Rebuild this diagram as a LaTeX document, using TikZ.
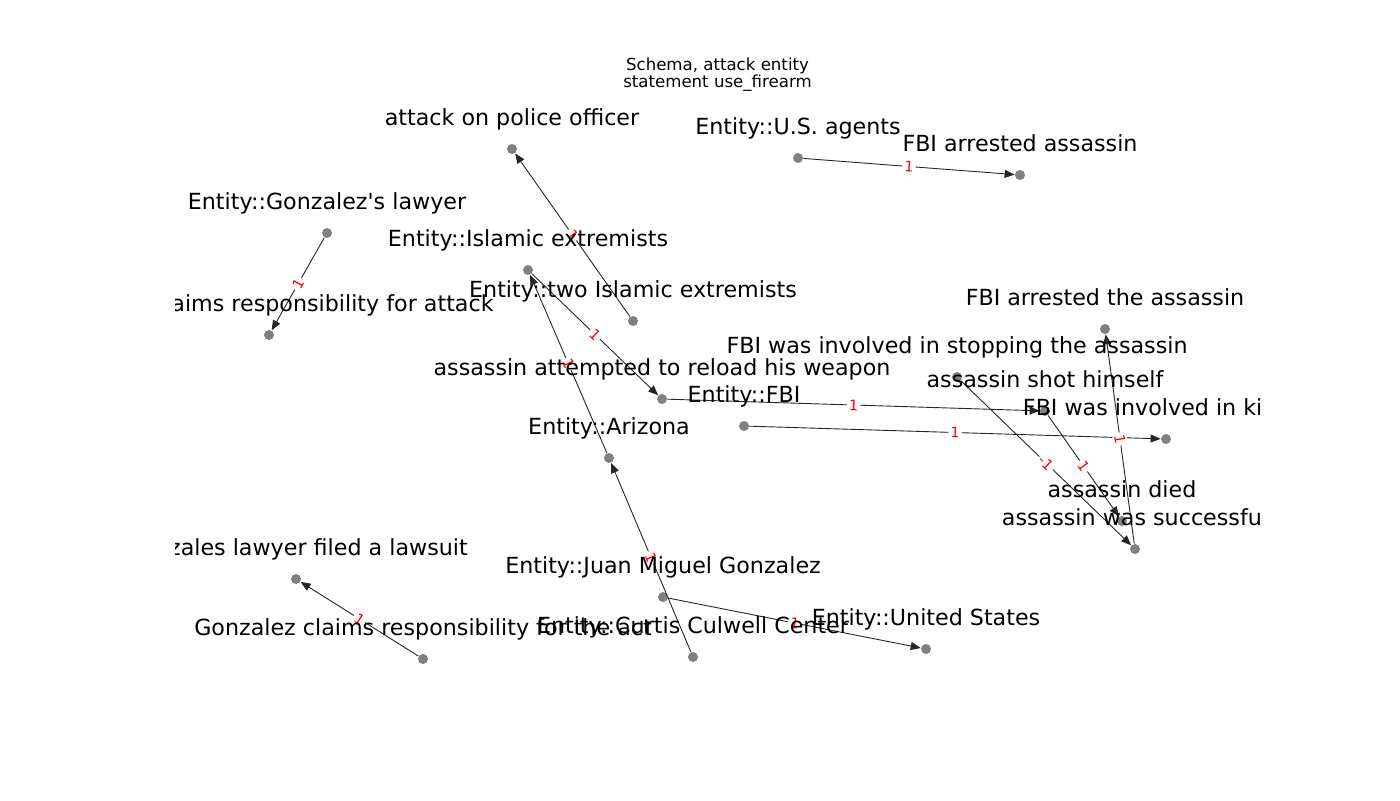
\documentclass[tikz,border=0pt]{standalone}
\usepackage{fontspec}
\setmainfont{DejaVu Sans}
\usetikzlibrary{arrows.meta}
\begin{document}
\begin{tikzpicture}[x=0.5pt,y=-0.5pt,
  dot/.style={circle,fill=gray,inner sep=0pt,minimum size=5pt},
  lbl/.style={font=\fontsize{11.1}{13}\selectfont,inner sep=0pt,text height=0.76em,text depth=0.24em},
  edge/.style={-{Triangle[length=5pt,width=4pt]},line width=0.45pt,black!85},
  elab/.style={font=\fontsize{7.2}{8}\selectfont,text=red,fill=white,inner sep=1pt,sloped,midway}]
\useasboundingbox (0,0) rectangle (1400,800);
\node[font=\fontsize{8.3}{8.6}\selectfont,align=center] (title) at (717.5,74.5) {Schema, attack entity\\statement use\_firearm};
\begin{scope}
\clip (175,96) rectangle (1260,712);
% event and entity nodes
\node[dot] (attack) at (512,149) {};
\node[dot] (usag) at (798,158) {};
\node[dot] (fbiarr) at (1020,175) {};
\node[dot] (glaw) at (327,233) {};
\node[dot] (islam) at (528,270) {};
\node[dot] (twoisl) at (633,321) {};
\node[dot] (claim) at (269,335) {};
\node[dot] (fbiarrthe) at (1105,329) {};
\node[dot] (fbistop) at (957,377) {};
\node[dot] (shot) at (1045,411) {};
\node[dot] (fbikill) at (1166,439) {};
\node[dot] (died) at (1122,521) {};
\node[dot] (succ) at (1135,549) {};
\node[dot] (reload) at (662,399) {};
\node[dot] (fbi) at (744,426) {};
\node[dot] (ariz) at (609,458) {};
\node[dot] (lawsuit) at (296,579) {};
\node[dot] (juan) at (663,597) {};
\node[dot] (act) at (423,659) {};
\node[dot] (curtis) at (693,657) {};
\node[dot] (us) at (926,649) {};
% edges
\draw[edge] (usag) -- node[elab] {1} (fbiarr);
\draw[edge] (twoisl) -- node[elab] {1} (attack);
\draw[edge] (glaw) -- node[elab] {1} (claim);
\draw[edge] (islam) -- node[elab] {1} (reload);
\draw[edge] (ariz) -- node[elab] {1} (islam);
\draw[edge] (curtis) -- node[elab] {1} (ariz);
\draw[edge] (juan) -- node[elab] {1} (us);
\draw[edge] (act) -- node[elab] {1} (lawsuit);
\draw[edge] (reload) -- node[elab] {1} (shot);
\draw[edge] (fbi) -- node[elab] {1} (fbikill);
\draw[edge] (succ) -- node[elab] {1} (fbiarrthe);
\draw[edge] (fbistop) -- node[elab] {-1} (succ);
\draw[edge] (shot) -- node[elab] {1} (died);
% labels
\node[lbl] (attackt) at ([yshift=14.5pt]attack.center) {attack on police officer};
\node[lbl] (usagt) at ([yshift=14.5pt]usag.center) {Entity::U.S. agents};
\node[lbl] (fbiarrt) at ([yshift=14.5pt]fbiarr.center) {FBI arrested assassin};
\node[lbl] (glawt) at ([yshift=14.5pt]glaw.center) {Entity::Gonzalez\textquotesingle s lawyer};
\node[lbl] (islamt) at ([yshift=14.5pt]islam.center) {Entity::Islamic extremists};
\node[lbl] (twoislt) at ([yshift=14.5pt]twoisl.center) {Entity::two Islamic extremists};
\node[lbl] (claimt) at ([yshift=14.5pt]claim.center) {Gonzalez claims responsibility for attack};
\node[lbl] (fbiarrthet) at ([yshift=14.5pt]fbiarrthe.center) {FBI arrested the assassin};
\node[lbl] (fbistopt) at ([yshift=14.5pt]fbistop.center) {FBI was involved in stopping the assassin};
\node[lbl] (shott) at ([yshift=14.5pt]shot.center) {assassin shot himself};
\node[lbl] (fbikillt) at ([yshift=14.5pt]fbikill.center) {FBI was involved in killing};
\node[lbl] (diedt) at ([yshift=14.5pt]died.center) {assassin died};
\node[lbl] (succt) at ([yshift=14.5pt]succ.center) {assassin was successful};
\node[lbl] (reloadt) at ([yshift=14.5pt]reload.center) {assassin attempted to reload his weapon};
\node[lbl] (fbit) at ([yshift=14.5pt]fbi.center) {Entity::FBI};
\node[lbl] (arizt) at ([yshift=14.5pt]ariz.center) {Entity::Arizona};
\node[lbl] (lawsuitt) at ([yshift=14.5pt]lawsuit.center) {Gonzales lawyer filed a lawsuit};
\node[lbl] (juant) at ([yshift=14.5pt]juan.center) {Entity::Juan Miguel Gonzalez};
\node[lbl] (actt) at ([yshift=14.5pt]act.center) {Gonzalez claims responsibility for the act};
\node[lbl] (curtist) at ([yshift=14.5pt]curtis.center) {Entity::Curtis Culwell Center};
\node[lbl] (ust) at ([yshift=14.5pt]us.center) {Entity::United States};
\end{scope}
\end{tikzpicture}
\end{document}
